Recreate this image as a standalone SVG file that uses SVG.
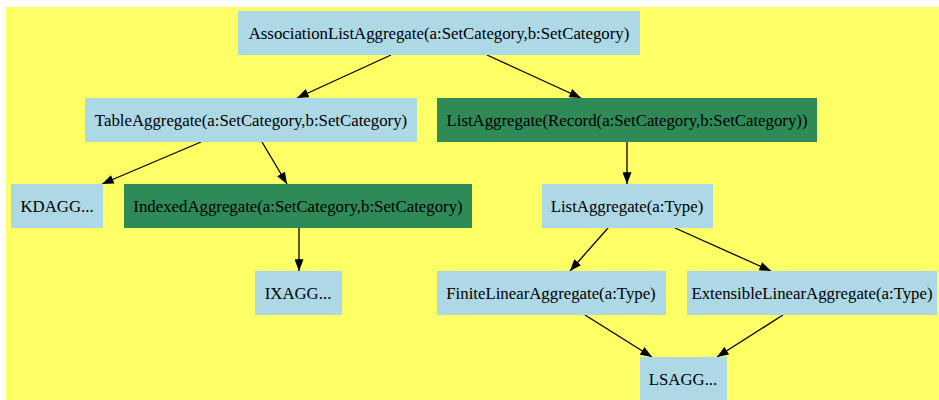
<svg xmlns="http://www.w3.org/2000/svg" width="939" height="400" viewBox="0 0 939 400">
<style>
.bg{fill:#ffff66}
.n{fill:#add8e6}
.g{fill:#2e8b57}
text{font-family:"Liberation Serif","Times New Roman",serif;font-size:16.8px;fill:#000;text-anchor:middle}
.e{stroke:#000;stroke-width:1.3;fill:none;marker-end:url(#ah)}
</style>
<defs>
<marker id="ah" markerUnits="userSpaceOnUse" markerWidth="12" markerHeight="9" refX="11" refY="4.25" orient="auto" viewBox="0 0 11 8.5">
<path d="M0,0 L11,4.25 L0,8.5 Z" fill="#000"/>
</marker>
</defs>
<rect class="bg" x="6" y="7" width="933" height="393"/>
<g id="edges">
<line class="e" x1="391" y1="55" x2="297" y2="98"/>
<line class="e" x1="487" y1="55" x2="581" y2="98"/>
<line class="e" x1="201" y1="142" x2="102" y2="184"/>
<line class="e" x1="262" y1="142" x2="287" y2="184"/>
<line class="e" x1="627" y1="142" x2="627" y2="184"/>
<line class="e" x1="299" y1="228" x2="299" y2="271"/>
<line class="e" x1="608" y1="228" x2="570" y2="271"/>
<line class="e" x1="675" y1="228" x2="771" y2="271"/>
<line class="e" x1="585" y1="315" x2="652" y2="357"/>
<line class="e" x1="783" y1="315" x2="717" y2="357"/>
</g>
<g id="assoc"><rect class="n" x="238" y="11" width="402" height="44"/><text x="439" y="39">AssociationListAggregate(a:SetCategory,b:SetCategory)</text></g>
<g id="table"><rect class="n" x="85" y="98" width="332" height="44"/><text x="251" y="126">TableAggregate(a:SetCategory,b:SetCategory)</text></g>
<g id="listrecord"><rect class="g" x="437" y="98" width="380" height="44"/><text x="627" y="126">ListAggregate(Record(a:SetCategory,b:SetCategory))</text></g>
<g id="kdagg"><rect class="n" x="11" y="184" width="92" height="44"/><text x="57" y="212">KDAGG...</text></g>
<g id="indexed"><rect class="g" x="124" y="184" width="348" height="44"/><text x="298" y="212">IndexedAggregate(a:SetCategory,b:SetCategory)</text></g>
<g id="listtype"><rect class="n" x="542" y="184" width="171" height="44"/><text x="627" y="212">ListAggregate(a:Type)</text></g>
<g id="ixagg"><rect class="n" x="255" y="271" width="87" height="44"/><text x="298" y="299">IXAGG...</text></g>
<g id="finite"><rect class="n" x="437" y="271" width="229" height="44"/><text x="551" y="299">FiniteLinearAggregate(a:Type)</text></g>
<g id="extensible"><rect class="n" x="687" y="271" width="250" height="44"/><text x="812" y="299">ExtensibleLinearAggregate(a:Type)</text></g>
<g id="lsagg"><rect class="n" x="640" y="357" width="87" height="44"/><text x="683" y="385">LSAGG...</text></g>
</svg>
